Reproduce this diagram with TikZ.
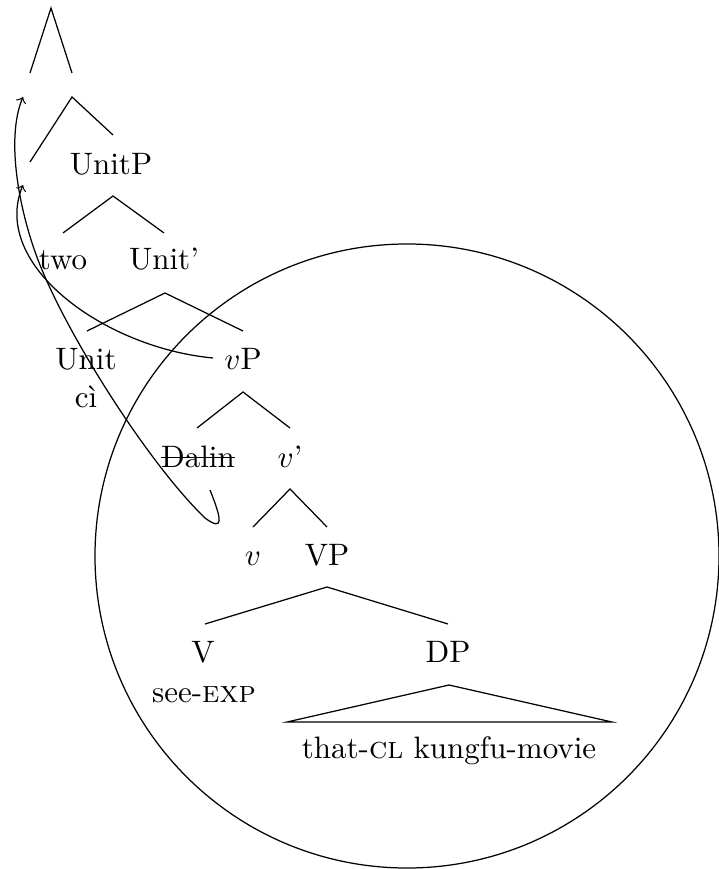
\documentclass[tikz,border=0pt]{standalone}
\begin{document}
\begin{tikzpicture}[x=0.3226pt,y=-0.3226pt,
  lbl/.style={anchor=base,inner sep=0pt},
  br/.style={line width=0.4pt},
  mv/.style={->,line width=0.4pt}]
\useasboundingbox (0,0) rectangle (718,869);
% text nodes
\node[lbl] (unitp) at (111,175) {UnitP};
\node[lbl] (two) at (63,270) {two};
\node[lbl] (unitbar) at (164,270) {Unit'};
\node[lbl] (unit) at (86,369) {Unit};
\node[lbl] (ci) at (86,408) {cì};
\node[lbl] (vp) at (243,369) {$v$P};
\node[lbl] (dalin) at (198,467) {Dalin};
\node[lbl] (vbar) at (290,467) {$v$'};
\node[lbl] (v) at (253,565) {$v$};
\node[lbl] (VP) at (327,565) {VP};
\node[lbl] (V) at (203,662) {V};
\node[lbl] (DP) at (448,662) {DP};
\node[lbl] (see) at (204,702) {see-\textsc{exp}};
\node[lbl] (obj) at (449,758) {that-\textsc{cl} kungfu-movie};
\draw[br] ([yshift=3pt]dalin.base west) -- ([yshift=3pt]dalin.base east);
% branch points
\coordinate (a0) at (51,8);   \coordinate (a0l) at (30,73);  \coordinate (a0r) at (72,73);
\coordinate (a1) at (72,97);  \coordinate (a1l) at (30,162); \coordinate (a1r) at (113,135);
\coordinate (a2) at (113,196); \coordinate (a2l) at (63,233); \coordinate (a2r) at (164,233);
\coordinate (a3) at (165,293); \coordinate (a3l) at (87,331); \coordinate (a3r) at (243,331);
\coordinate (a4) at (243,392); \coordinate (a4l) at (197,428); \coordinate (a4r) at (290,428);
\coordinate (a5) at (290,489); \coordinate (a5l) at (253,527); \coordinate (a5r) at (327,527);
\coordinate (a6) at (327,587); \coordinate (a6l) at (205,624); \coordinate (a6r) at (448,624);
\coordinate (a7) at (449,685); \coordinate (a7l) at (287,722); \coordinate (a7r) at (612,722);
\draw[br] (a0l) -- (a0) -- (a0r);
\draw[br] (a1l) -- (a1) -- (a1r);
\draw[br] (a2l) -- (a2) -- (a2r);
\draw[br] (a3l) -- (a3) -- (a3r);
\draw[br] (a4l) -- (a4) -- (a4r);
\draw[br] (a5l) -- (a5) -- (a5r);
\draw[br] (a6l) -- (a6) -- (a6r);
\draw[br] (a7l) -- (a7) -- (a7r) -- cycle;
% circle
\draw[br] (407,556) circle[radius=312];
% movement arrows
\coordinate (spec1) at (23,97);
\coordinate (spec2) at (23,185);
\coordinate (dstart) at (210,490);
\coordinate (vstart) at (213,358);
\draw[mv] (dstart) .. controls (222,520) and (224,532) .. (205,518)
  .. controls (150,465) and (70,340) .. (40,265)
  .. controls (20,215) and (5,140) .. (spec1);
\draw[mv] (vstart) .. controls (105,348) and (-10,265) .. (spec2);
\end{tikzpicture}
\end{document}
